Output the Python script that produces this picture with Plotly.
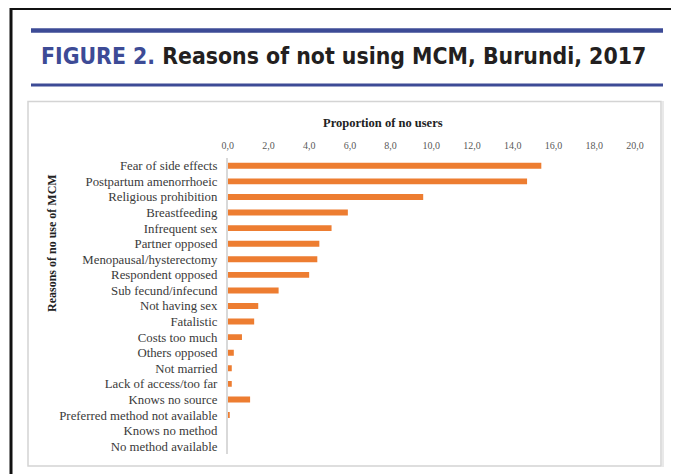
import plotly.graph_objects as go

categories = [
    "Fear of side effects", "Postpartum amenorrhoeic", "Religious prohibition",
    "Breastfeeding", "Infrequent sex", "Partner opposed", "Menopausal/hysterectomy",
    "Respondent opposed", "Sub fecund/infecund", "Not having sex", "Fatalistic",
    "Costs too much", "Others opposed", "Not married", "Lack of access/too far",
    "Knows no source", "Preferred method not available", "Knows no method",
    "No method available",
]
values = [15.4, 14.7, 9.6, 5.9, 5.1, 4.5, 4.4, 4.0, 2.5, 1.5, 1.3, 0.7, 0.3,
          0.2, 0.2, 1.1, 0.1, 0.0, 0.0]
tick_vals = [0, 2, 4, 6, 8, 10, 12, 14, 16, 18, 20]
tick_text = ["0,0", "2,0", "4,0", "6,0", "8,0", "10,0", "12,0", "14,0", "16,0", "18,0", "20,0"]

# page offset (browser body margin)
OFF = 8
W, H = 679 - OFF, 474 - OFF
def px(x):
    return (x - OFF) / W
def py(y):
    return 1 - (y - OFF) / H

BLUE = "#3d4b96"
SERIF = "Liberation Serif, Times New Roman, serif"

fig = go.Figure(go.Bar(
    x=values, y=categories, orientation="h",
    marker=dict(color="#ED7D31", line=dict(width=0)),
    width=0.38,
))

shapes = [
    dict(type="line", xref="paper", yref="paper", x0=px(11), x1=px(11), y0=py(7), y1=py(474),
         line=dict(color="#111111", width=3), layer="below"),
    dict(type="line", xref="paper", yref="paper", x0=px(10), x1=px(679), y0=py(8.5), y1=py(8.5),
         line=dict(color="#111111", width=3), layer="below"),
    dict(type="line", xref="paper", yref="paper", x0=px(31), x1=px(663), y0=py(30.5), y1=py(30.5),
         line=dict(color=BLUE, width=4.5), layer="below"),
    dict(type="line", xref="paper", yref="paper", x0=px(31), x1=px(663), y0=py(85), y1=py(85),
         line=dict(color=BLUE, width=3), layer="below"),
    dict(type="rect", xref="paper", yref="paper", x0=px(28), x1=px(661), y0=py(101.5), y1=py(466),
         line=dict(color="#d4d4d4", width=1.5), fillcolor="white", layer="below"),
    dict(type="line", xref="paper", yref="paper", x0=px(663), x1=px(663), y0=py(101), y1=py(467),
         line=dict(color="#e2e2e2", width=1.5), layer="below"),
]

annotations = [
    dict(xref="paper", yref="paper", x=px(39), y=py(56), xanchor="left", yanchor="middle",
         showarrow=False,
         text=f"<b><span style='color:{BLUE}'>FIGURE 2.</span> Reasons of not using MCM, Burundi, 2017</b>",
         font=dict(family="DejaVu Sans Condensed, Liberation Sans Narrow, sans-serif", size=22.8, color="#231f20")),
    dict(xref="paper", yref="paper", x=px(383), y=py(123), xanchor="center", yanchor="middle",
         showarrow=False, text="<b>Proportion of no users</b>",
         font=dict(family=SERIF, size=12.5, color="#222222")),
    dict(xref="paper", yref="paper", x=px(52), y=py(243), xanchor="center", yanchor="middle",
         showarrow=False, text="<b>Reasons of no use of MCM</b>", textangle=-90,
         font=dict(family=SERIF, size=12, color="#222222")),
]

fig.update_layout(
    width=W, height=H,
    margin=dict(l=0, r=0, t=0, b=0),
    paper_bgcolor="white", plot_bgcolor="rgba(0,0,0,0)",
    showlegend=False,
    shapes=shapes, annotations=annotations,
    xaxis=dict(
        domain=[px(227.7), px(635)], range=[0, 20], side="top",
        tickvals=tick_vals, ticktext=tick_text,
        showgrid=False, zeroline=False, showline=False, ticks="",
        tickfont=dict(family=SERIF, size=10, color="#595959"),
        ticklabelstandoff=6, automargin=False,
    ),
    yaxis=dict(
        domain=[py(454), py(158)], autorange="reversed",
        showgrid=False, zeroline=False, ticks="",
        showline=True, linecolor="#d9d9d9", linewidth=1.5,
        tickfont=dict(family=SERIF, size=12.8, color="#3a3a3a"),
        ticklabelstandoff=6, automargin=False,
    ),
    bargap=0.6,
)

fig.write_html("out.html")
